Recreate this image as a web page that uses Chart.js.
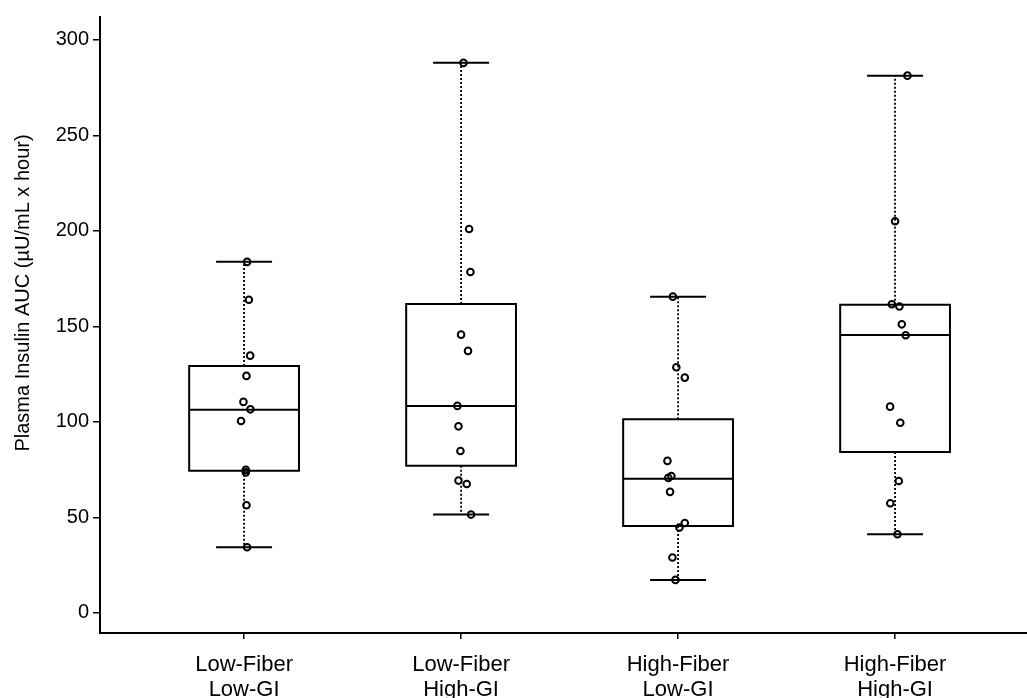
<!DOCTYPE html>
<html>
<head>
<meta charset="utf-8">
<script src="https://cdn.jsdelivr.net/npm/chart.js@4/dist/chart.umd.min.js"></script>
<style>
  html, body { margin: 0; padding: 0; background: #fff; overflow: hidden; }
  #wrap { width: 1027px; height: 698px; }
  canvas { display: block; }
</style>
</head>
<body>
<div id="wrap"><canvas id="boxChart"></canvas></div>
<script>
// Groups and summary stats
const categories = [
  ["Low-Fiber", "Low-GI"],
  ["Low-Fiber", "High-GI"],
  ["High-Fiber", "Low-GI"],
  ["High-Fiber", "High-GI"],
];
const whiskerLow = [34.4, 51.5, 17.3, 41.2];
const q1 = [74.5, 77.0, 45.5, 84.3];
const median = [106.4, 108.4, 70.3, 145.5];
const q3 = [129.3, 161.8, 101.4, 161.3];
const whiskerHigh = [183.8, 288.0, 165.6, 281.3];

// Individual observations and their horizontal jitter
const points = [
  [183.8, 164.0, 134.7, 124.1, 110.5, 106.6, 100.5, 74.9, 73.6, 56.4, 34.4],
  [288.0, 201.0, 178.5, 145.7, 137.2, 108.4, 97.7, 84.8, 69.3, 67.5, 51.5],
  [165.6, 128.6, 123.2, 79.6, 71.7, 70.7, 63.4, 47.1, 44.7, 29.0, 17.3],
  [281.3, 205.1, 161.6, 160.4, 151.1, 145.4, 108.0, 99.6, 69.1, 57.4, 41.2],
];
const jitter = [
  [0.014, 0.022, 0.028, 0.011, -0.003, 0.029, -0.014, 0.008, 0.008, 0.011, 0.014],
  [0.011, 0.037, 0.043, 0.0, 0.032, -0.017, -0.012, -0.003, -0.012, 0.026, 0.046],
  [-0.024, -0.008, 0.031, -0.049, -0.031, -0.045, -0.037, 0.031, 0.006, -0.026, -0.012],
  [0.057, 0.0, -0.015, 0.02, 0.031, 0.049, -0.023, 0.024, 0.017, -0.022, 0.011],
];
const yTicks = [0, 50, 100, 150, 200, 250, 300];
const Y_TITLE = "Plasma Insulin AUC (\u00b5U/mL x hour)";

const BOX_HALF = 0.253;
const CAP_HALF = 0.129;
const FONT = "'Liberation Sans', Arial, sans-serif";

// Build line segments separated by gaps (y: null)
const gap = (x) => ({ x, y: null });
const boxData = [], medianData = [], capData = [], whiskerData = [], pointData = [];

categories.forEach((_, i) => {
  const x = i + 1;
  boxData.push(
    { x: x - BOX_HALF, y: q1[i] }, { x: x + BOX_HALF, y: q1[i] },
    { x: x + BOX_HALF, y: q3[i] }, { x: x - BOX_HALF, y: q3[i] },
    { x: x - BOX_HALF, y: q1[i] }, { x: x + BOX_HALF, y: q1[i] }, gap(x)
  );
  medianData.push({ x: x - BOX_HALF, y: median[i] }, { x: x + BOX_HALF, y: median[i] }, gap(x));
  capData.push(
    { x: x - CAP_HALF, y: whiskerHigh[i] }, { x: x + CAP_HALF, y: whiskerHigh[i] }, gap(x),
    { x: x - CAP_HALF, y: whiskerLow[i] }, { x: x + CAP_HALF, y: whiskerLow[i] }, gap(x)
  );
  whiskerData.push(
    { x, y: q3[i] }, { x, y: whiskerHigh[i] }, gap(x),
    { x, y: q1[i] }, { x, y: whiskerLow[i] }, gap(x)
  );
  points[i].forEach((v, j) => pointData.push({ x: x + jitter[i][j], y: v }));
});

const lineSet = (data, extra = {}) => ({
  data,
  showLine: true,
  spanGaps: false,
  borderColor: "#000",
  borderWidth: 2,
  pointRadius: 0,
  borderJoinStyle: "miter",
  order: 1,
  ...extra,
});

// Rotated y-axis title, sitting a little above the panel centre like the original
const yTitlePlugin = {
  id: "yTitle",
  afterDraw(chart) {
    const { ctx, chartArea } = chart;
    const cy = (chartArea.top + chartArea.bottom) / 2 - 32;
    ctx.save();
    ctx.translate(23, cy);
    ctx.rotate(-Math.PI / 2);
    ctx.textAlign = "center";
    ctx.textBaseline = "middle";
    ctx.font = `20px ${FONT}`;
    ctx.fillStyle = "#000";
    ctx.fillText(Y_TITLE, 0, 0);
    ctx.restore();
  },
};

const ctx = document.getElementById("boxChart").getContext("2d");
new Chart(ctx, {
  type: "scatter",
  data: {
    datasets: [
      {
        data: pointData,
        pointStyle: "circle",
        pointRadius: 3.3,
        borderColor: "#000",
        borderWidth: 2,
        backgroundColor: "rgba(0,0,0,0)",
        order: 0,
      },
      lineSet(boxData),
      lineSet(medianData),
      lineSet(capData),
      lineSet(whiskerData, { borderDash: [2, 2], borderWidth: 1.8 }),
    ],
  },
  options: {
    responsive: true,
    maintainAspectRatio: false,
    animation: false,
    layout: { autoPadding: false, padding: { top: 17, right: 0, left: 0, bottom: 0 } },
    plugins: { legend: { display: false }, tooltip: { enabled: false } },
    scales: {
      x: {
        type: "linear",
        min: 0.336,
        max: 4.608,
        afterBuildTicks: (scale) => {
          scale.ticks = categories.map((_, i) => ({ value: i + 1 }));
        },
        afterFit: (scale) => {
          scale.height = 65;
          scale.paddingLeft = 0;
          scale.paddingRight = 0;
        },
        border: { display: true, color: "#000", width: 2 },
        grid: { drawOnChartArea: false, color: "#000", lineWidth: 1.5, tickLength: 6 },
        ticks: {
          color: "#000",
          font: { family: FONT, size: 22, lineHeight: 1.12 },
          padding: 14,
          maxRotation: 0,
          callback: (v) => categories[v - 1] || "",
        },
      },
      y: {
        min: -10.5,
        max: 312,
        afterBuildTicks: (scale) => {
          scale.ticks = yTicks.map((v) => ({ value: v }));
        },
        afterFit: (scale) => { scale.width = 100; },
        border: { display: true, color: "#000", width: 2 },
        grid: { drawOnChartArea: false, color: "#000", lineWidth: 1.5, tickLength: 7 },
        ticks: {
          color: "#000",
          font: { family: FONT, size: 20 },
          padding: 4,
        },
      },
    },
  },
  plugins: [yTitlePlugin],
});
</script>
</body>
</html>
